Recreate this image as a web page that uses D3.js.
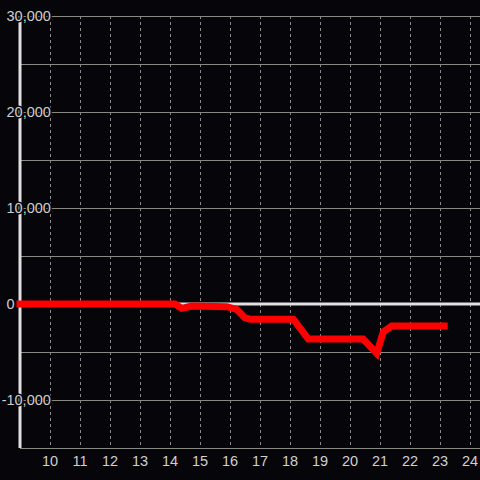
<!DOCTYPE html>
<html>
<head>
<meta charset="utf-8">
<script src="https://cdn.jsdelivr.net/npm/d3@7"></script>
<style>
html,body{margin:0;padding:0;background:#060509;}
svg{display:block;}
text{font-family:"Liberation Sans",Arial,sans-serif;font-size:14.5px;}
.ylab{paint-order:stroke fill;}
</style>
</head>
<body>
<svg id="chart" width="480" height="480"></svg>
<script>
const hours  = [9, 14.17, 14.39, 14.72, 15.89, 16.22, 16.5, 16.67, 18.11, 18.61, 20.44, 20.89, 21.11, 21.39, 23.14];
const values = [0, 0, -450, -220, -280, -550, -1450, -1580, -1580, -3650, -3650, -5150, -2900, -2300, -2300];
const xTicks = [10, 11, 12, 13, 14, 15, 16, 17, 18, 19, 20, 21, 22, 23, 24];
const yGrid  = [-15000, -10000, -5000, 0, 5000, 10000, 15000, 20000, 25000, 30000];
const yLabels = [-10000, 0, 10000, 20000, 30000];

const svg = d3.select("#chart");
const W = 480, H = 480;
svg.append("rect").attr("width", W).attr("height", H).attr("fill", "#060509");

const x = d3.scaleLinear().domain([9, 24.3333]).range([20, 480]);
const y = d3.scaleLinear().domain([-15000, 30000]).range([448, 16]);

// vertical dashed grid
svg.append("g").selectAll("line").data(xTicks).join("line")
  .attr("x1", d => x(d)).attr("x2", d => x(d))
  .attr("y1", y(30000)).attr("y2", y(-15000))
  .attr("stroke", "#8a8a8a").attr("stroke-width", 1)
  .attr("stroke-dasharray", "3,3").attr("shape-rendering", "crispEdges");

// horizontal grid
svg.append("g").selectAll("line").data(yGrid).join("line")
  .attr("x1", x(9)).attr("x2", W)
  .attr("y1", d => y(d)).attr("y2", d => y(d))
  .attr("stroke", "#8a8a85").attr("stroke-width", 1).attr("shape-rendering", "crispEdges");

// zero line
svg.append("line")
  .attr("x1", x(9)).attr("x2", W).attr("y1", y(0)).attr("y2", y(0))
  .attr("stroke", "#e0e0e0").attr("stroke-width", 3);

// y axis line
svg.append("line")
  .attr("x1", x(9)).attr("x2", x(9)).attr("y1", y(30000)).attr("y2", y(-15000))
  .attr("stroke", "#e0e0e0").attr("stroke-width", 3);

// data line
const line = d3.line().x((d, i) => x(hours[i])).y(d => y(d));
svg.append("path").datum(values)
  .attr("d", line)
  .attr("fill", "none").attr("stroke", "#ff0000")
  .attr("stroke-width", 7).attr("stroke-linecap", "square").attr("stroke-linejoin", "miter");

// y labels with halo, left aligned (minus sign hangs to the left)
const fmt = d3.format(",");
svg.append("g").selectAll("text").data(yLabels).join("text")
  .attr("class", "ylab")
  .attr("x", 6.5).attr("y", d => y(d)).attr("dy", "0.36em")
  .attr("dx", d => d < 0 ? "-0.333em" : 0)
  .attr("text-anchor", "start")
  .attr("fill", "#d0d0d0")
  .attr("stroke", "#060509").attr("stroke-width", 3).attr("stroke-linejoin", "round")
  .text(d => fmt(d).replace("−", "-"));

// x labels
svg.append("g").selectAll("text").data(xTicks).join("text")
  .attr("x", d => x(d)).attr("y", 466)
  .attr("text-anchor", "middle")
  .attr("fill", "#d0d0d0")
  .text(d => d);
</script>
</body>
</html>
